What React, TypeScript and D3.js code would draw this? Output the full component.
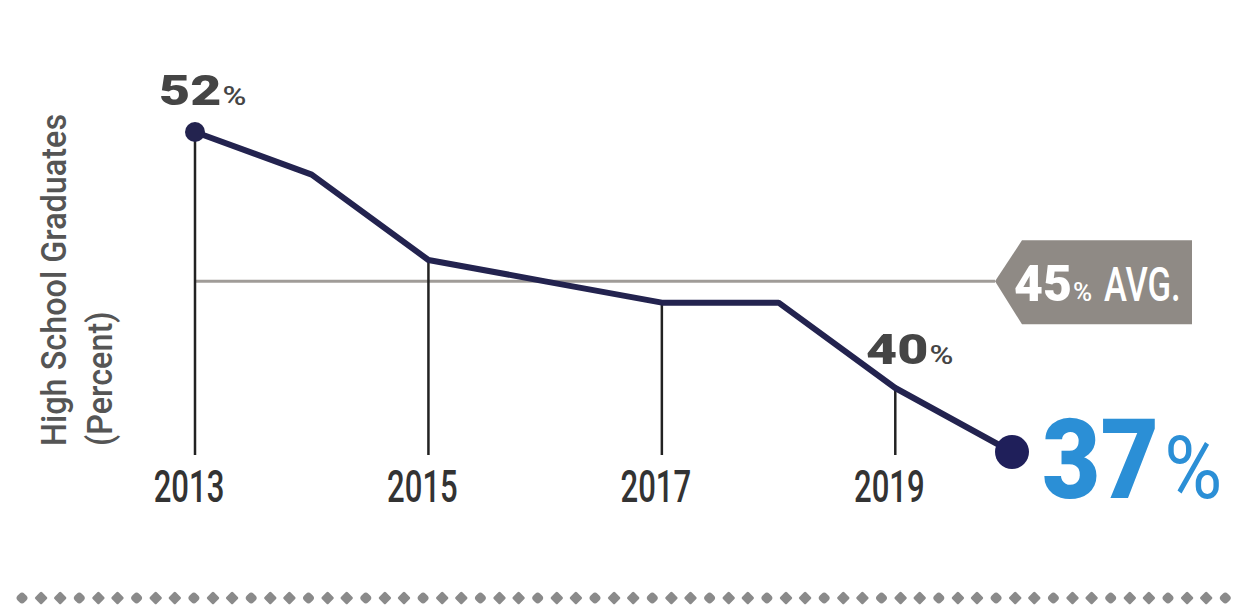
import React from "react";
import * as d3 from "d3";

const years = [2013, 2014, 2015, 2016, 2017, 2018, 2019, 2020];
const values = [52, 50, 46, 45, 44, 44, 40, 37];
const tickYears = [2013, 2015, 2017, 2019];
const average = 45;
const yAxisLines = ["High School Graduates", "(Percent)"];

const W = 1246;
const H = 616;

export default function App() {
  const x = d3.scaleLinear().domain([2013, 2020]).range([195, 1012]);
  const y = d3.scaleLinear().domain([37, 52]).range([452, 132]);
  const baseY = 455;
  const line = d3
    .line<number>()
    .x((_, i) => x(years[i]))
    .y((d) => y(d));
  const valOf = (yr: number) => values[years.indexOf(yr)];
  const avgY = y(average);
  const tagLeft = x(2020) - 17;
  const dots = d3.range(22, 1240, 19.1);
  const font = "Roboto, 'Liberation Sans', sans-serif";

  return (
    <svg
      width={W}
      height={H}
      style={{ position: "absolute", left: 0, top: 0, background: "#fff" }}
    >
      {/* y axis title */}
      <g fontFamily={font} fill="#555" fontWeight={500}>
        {yAxisLines.map((t, i) => (
          <text
            key={t}
            transform={`translate(${66 + i * 46},446) rotate(-90) scale(0.9,1)`}
            fontSize={36}
          >
            {t}
          </text>
        ))}
      </g>

      {/* average line */}
      <line x1={x(2013)} x2={tagLeft} y1={avgY} y2={avgY} stroke="#a09c98" strokeWidth={3} />

      {/* drop lines */}
      {tickYears.map((yr) => (
        <line
          key={yr}
          x1={x(yr)}
          x2={x(yr)}
          y1={y(valOf(yr))}
          y2={baseY}
          stroke="#222"
          strokeWidth={2.5}
        />
      ))}

      {/* tick labels */}
      {tickYears.map((yr) => (
        <text
          key={"t" + yr}
          transform={`translate(${x(yr) - 6},502) scale(0.74,1.05)`}
          textAnchor="middle"
          fontFamily={font}
          fontSize={42}
          fontWeight={500}
          fill="#333"
        >
          {yr}
        </text>
      ))}

      {/* data line */}
      <path d={line(values) ?? ""} fill="none" stroke="#23234f" strokeWidth={6} strokeLinejoin="round" />
      <circle cx={x(2013)} cy={y(values[0])} r={10} fill="#23234f" />
      <circle cx={x(2020)} cy={y(values[7])} r={17} fill="#1f1f5a" />

      {/* value labels */}
      <text
        transform={`translate(159,105) scale(1.25,1)`}
        fontFamily={font}
        fill="#454545"
      >
        <tspan fontSize={43} fontWeight={900}>{valOf(2013)}</tspan>
        <tspan fontSize={26} fontWeight={500} dx={1}>%</tspan>
      </text>
      <text
        transform={`translate(866,364) scale(1.25,1)`}
        fontFamily={font}
        fill="#454545"
      >
        <tspan fontSize={43} fontWeight={900}>{valOf(2019)}</tspan>
        <tspan fontSize={26} fontWeight={500} dx={1}>%</tspan>
      </text>
      <text
        transform={`translate(1042,498) scale(0.9,1)`}
        fontFamily={font}
        fill="#2b8fd6"
      >
        <tspan fontSize={112} fontWeight={900}>{valOf(2020)}</tspan>
        <tspan fontSize={88} fontWeight={400} dx={6}>%</tspan>
      </text>

      {/* average tag */}
      <path
        d={`M${tagLeft},${avgY} L${tagLeft + 27},${avgY - 41} L1192,${avgY - 41} L1192,${avgY + 43} L${tagLeft + 27},${avgY + 43} Z`}
        fill="#8f8a85"
      />
      <text
        transform={`translate(1014,301) scale(1.0,1)`}
        fontFamily={font}
        fill="#fff"
      >
        <tspan fontSize={50} fontWeight={900}>{average}</tspan>
        <tspan fontSize={26} fontWeight={500} dx={1}>%</tspan>
      </text>
      <text
        transform={`translate(1104,301) scale(0.72,1)`}
        fontFamily={font}
        fontSize={48}
        fontWeight={500}
        fill="#fff"
      >
        AVG.
      </text>

      {/* dotted separator */}
      {dots.map((dx, i) => (
        <rect
          key={i}
          x={dx - 4.8}
          y={598 - 4.8}
          width={9.6}
          height={9.6}
          transform={`rotate(45 ${dx} 598)`}
          fill="#8a8a8a"
          rx={i % 3 === 0 ? 3.5 : 1.5}
        />
      ))}
    </svg>
  );
}
